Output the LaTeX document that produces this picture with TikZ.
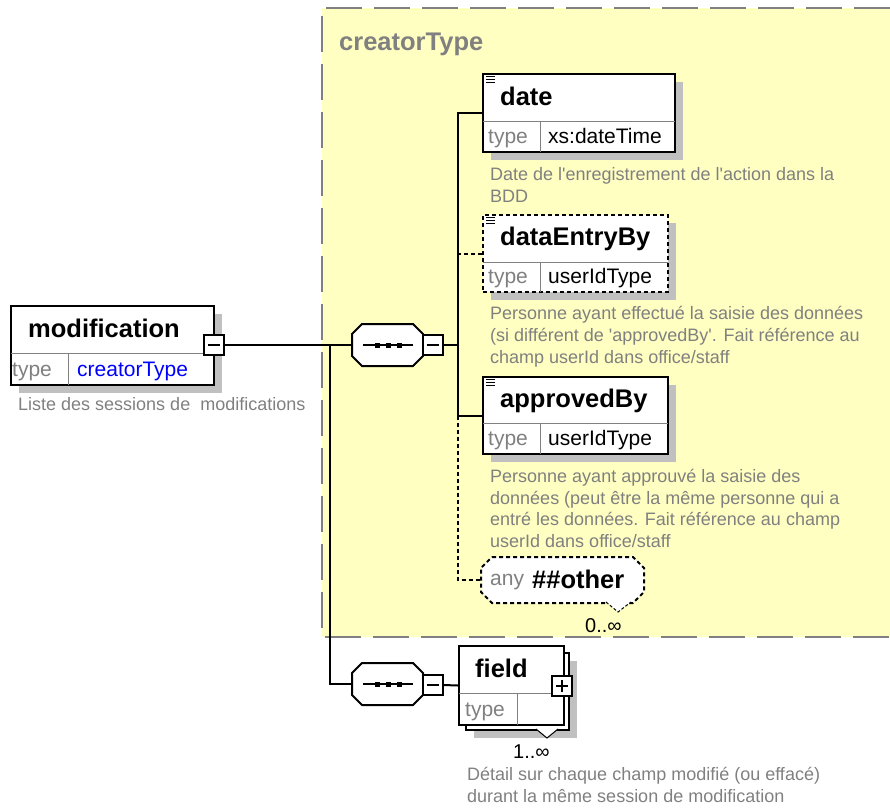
\documentclass[tikz,border=0pt]{standalone}
\usepackage{fontspec}
\newfontfamily\plainsans{Liberation Sans}
\usetikzlibrary{shadows}

\definecolor{bgyellow}{RGB}{255,255,194}
\definecolor{frame}{RGB}{128,128,128}
\definecolor{shade}{RGB}{192,192,192}
\definecolor{note}{RGB}{128,128,128}
\definecolor{typeblue}{RGB}{0,0,255}

\tikzset{
  shadowed/.style={drop shadow={shadow xshift=8pt,shadow yshift=-8pt,fill=shade,opacity=1}},
  elembox/.style={draw=black,line width=2pt,fill=white,inner sep=0pt,anchor=north west,shadowed},
  plainbox/.style={draw=black,line width=2pt,fill=white,inner sep=0pt,anchor=north west},
  optbox/.style={elembox,dash pattern=on 4pt off 3pt},
  conn/.style={line width=2pt},
  optconn/.style={line width=2pt,dash pattern=on 4pt off 3pt},
  sepline/.style={draw=frame,line width=1pt},
  panelframe/.style={draw=frame,line width=2pt,dash pattern=on 36pt off 12pt},
  frameonly/.style={inner sep=0pt,outer sep=1pt},
  octline/.style={draw=black,line width=2pt,fill=white},
  optoctline/.style={octline,dash pattern=on 4pt off 3pt},
  toggle/.style={draw,line width=2pt,fill=white,minimum size=20pt,inner sep=0pt},
  togglemark/.style={line width=1.5pt},
  ename/.style={anchor=base west,inner sep=0pt,font=\plainsans\fontsize{25.5}{30}\selectfont\bfseries},
  tlabel/.style={anchor=base west,inner sep=0pt,font=\plainsans\fontsize{21}{25}\selectfont,text=note},
  tvalue/.style={anchor=base west,inner sep=0pt,font=\plainsans\fontsize{21}{25}\selectfont},
  desc/.style={anchor=base west,inner sep=0pt,font=\plainsans\fontsize{18}{22}\selectfont,text=note},
  occurs/.style={anchor=base west,inner sep=0pt,font=\plainsans\fontsize{20}{24}\selectfont},
}

% element box: name row above, type row below
\newcommand\typerows[3]{% node, separator offset, divider offset
  \draw[sepline] ([shift={(1,#2)}]#1.north west) -- ([shift={(-1,#2)}]#1.north east);
  \draw[sepline] ([shift={(#3,#2)}]#1.north west) -- ([shift={(#3,-1)}]#1.south west);
}
% small annotation mark in the top-left corner of an element
\newcommand\docmark[1]{%
  \foreach \dy in {3,6,9} \draw[line width=1pt] ([shift={(4,\dy)}]#1.north west) -- ++(9,0);
}
% octagonal outline around a node, with cut corners; #4 shifts the copy (for shadows)
\newcommand\octagon[4]{% node, cut, style, offset
  \path[#3,shift={(#4)}]
    ([shift={(#2,0)}]#1.north west) -- ([shift={(-#2,0)}]#1.north east)
    -- ([shift={(0,#2)}]#1.north east) -- ([shift={(0,-#2)}]#1.south east)
    -- ([shift={(-#2,0)}]#1.south east) -- ([shift={(#2,0)}]#1.south west)
    -- ([shift={(0,-#2)}]#1.south west) -- ([shift={(0,#2)}]#1.north west) -- cycle;
}
% sequence symbol inside a compositor
\newcommand\seqmark[1]{%
  \draw[line width=2pt] ([shift={(-24.5,0)}]#1.center) -- ([shift={(25.5,0)}]#1.center);
  \foreach \dx in {-12.5,-1.5,9.5} \fill ([shift={(\dx,-2.5)}]#1.center) rectangle ++(5,5);
}

\begin{document}
\begin{tikzpicture}[x=1pt,y=-1pt]
\useasboundingbox (0,0) rectangle (890,808);

% complex type panel
\fill[bgyellow] (322,8) rectangle (890,637);
\draw[panelframe] (890,8) -- (322,8) -- (322,637) -- (890,637);
\node[ename,text=frame] (ctitle) at (339,50) {creatorType};

% root element
\node[elembox,minimum width=203pt,minimum height=79pt] (mod) at (10,305) {};
\typerows{mod}{48}{58}
\node[ename] (mod-name) at (28,337) {modification};
\node[tlabel] (mod-tl) at (12,376) {type};
\node[tvalue,text=typeblue] (mod-tv) at (77,376) {creatorType};
\node[desc] (mod-d1) at (18,410) {Liste des sessions de~ modifications};
\node[toggle] (mod-t) at (214,345) {};
\draw[togglemark] ([shift={(-6,0)}]mod-t.center) -- ([shift={(6,0)}]mod-t.center);

% first sequence
\node[frameonly,minimum width=69pt,minimum height=40pt] (seq1) at (387.5,345) {};
\octagon{seq1}{10}{fill=shade}{8,8}
\octagon{seq1}{10}{octline}{0,0}
\seqmark{seq1}
\node[toggle] (seq1-t) at (432.5,345) {};
\draw[togglemark] ([shift={(-6,0)}]seq1-t.center) -- ([shift={(6,0)}]seq1-t.center);

% date
\node[elembox,minimum width=192pt,minimum height=78pt] (date) at (482,73) {};
\typerows{date}{48}{58}
\docmark{date}
\node[ename] (date-name) at (500,105) {date};
\node[tlabel] (date-tl) at (488,143) {type};
\node[tvalue] (date-tv) at (548,143) {xs:dateTime};
\node[desc] (date-d1) at (490,180) {Date de l'enregistrement de l'action dans la};
\node[desc] (date-d2) at (490,202) {BDD};

% dataEntryBy (optional)
\node[optbox,minimum width=185pt,minimum height=77pt] (dee) at (482,214) {};
\typerows{dee}{48}{58}
\docmark{dee}
\node[ename] (dee-name) at (500,245) {dataEntryBy};
\node[tlabel] (dee-tl) at (488,283) {type};
\node[tvalue] (dee-tv) at (548,283) {userIdType};
\node[desc] (dee-d1) at (490,319) {Personne ayant effectué la saisie des données};
\node[desc] (dee-d2) at (490,341) {(si différent de 'approvedBy'. Fait référence au};
\node[desc] (dee-d3) at (490,363) {champ userId dans office/staff};

% approvedBy
\node[elembox,minimum width=185pt,minimum height=77pt] (apr) at (482,376) {};
\typerows{apr}{47}{58}
\docmark{apr}
\node[ename] (apr-name) at (500,407) {approvedBy};
\node[tlabel] (apr-tl) at (488,445) {type};
\node[tvalue] (apr-tv) at (548,445) {userIdType};
\node[desc] (apr-d1) at (490,482) {Personne ayant approuvé la saisie des};
\node[desc] (apr-d2) at (490,504) {données (peut être la même personne qui a};
\node[desc] (apr-d3) at (490,525) {entré les données. Fait référence au champ};
\node[desc] (apr-d4) at (490,547) {userId dans office/staff};

% wildcard
\node[frameonly,minimum width=161pt,minimum height=44pt] (any) at (562.5,580) {};
\octagon{any}{11}{fill=shade}{8,8}
\octagon{any}{11}{optoctline}{0,0}
\draw[line width=1pt,dash pattern=on 3pt off 2pt,fill=white] (606,602) -- (618,612) -- (631,602);
\node[tlabel] (any-kw) at (490,585) {any};
\node[ename] (any-ns) at (532,588) {\#\#other};
\node[occurs] (any-occ) at (585,632) {0..∞};

% second sequence
\node[frameonly,minimum width=69pt,minimum height=40pt] (seq2) at (387.5,684) {};
\octagon{seq2}{10}{fill=shade}{8,8}
\octagon{seq2}{10}{octline}{0,0}
\seqmark{seq2}
\node[toggle] (seq2-t) at (432.5,685) {};
\draw[togglemark] ([shift={(-6,0)}]seq2-t.center) -- ([shift={(6,0)}]seq2-t.center);

% field (repeated element)
\node[elembox,minimum width=103pt,minimum height=77pt] (field-back) at (465,652) {};
\draw[line width=1pt,fill=white] (536,729) -- (547,738) -- (558,729);
\node[plainbox,minimum width=105pt,minimum height=79pt] (field) at (458,645) {};
\typerows{field}{48}{59}
\node[ename] (field-name) at (475,677) {field};
\node[tlabel] (field-tl) at (465,716) {type};
\node[toggle] (field-t) at (562,686) {};
\draw[togglemark] ([shift={(-6,0)}]field-t.center) -- ([shift={(6,0)}]field-t.center);
\draw[togglemark] ([shift={(0,-6)}]field-t.center) -- ([shift={(0,6)}]field-t.center);
\node[occurs] (field-occ) at (513,758) {1..∞};
\node[desc] (field-d1) at (467,780) {Détail sur chaque champ modifié (ou effacé)};
\node[desc] (field-d2) at (467,802) {durant la même session de modification};

% connectors
\coordinate (split) at (330,345);
\coordinate (bus) at (458,345);
\draw[conn] (mod-t.east) -- (seq1.west);
\draw[conn] (split) |- (seq2.west);
\draw[conn] (seq1-t.east) -- (bus);
\draw[conn] (date.west) -| (bus |- apr.west) -- (apr.west);
\draw[optconn] (dee.west) -- (bus |- dee.west);
\draw[optconn] (bus |- apr.west) |- (any.west);
\draw[conn] (seq2-t.east) -- (field.west);
\end{tikzpicture}
\end{document}
